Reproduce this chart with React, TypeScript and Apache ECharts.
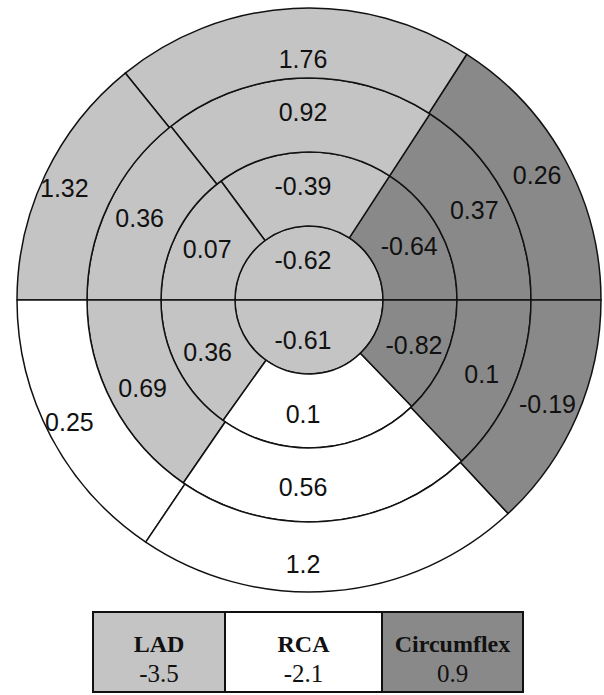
import React, { useEffect, useRef } from "react";
import * as echarts from "echarts";

// Segment values (ring by ring, counter-clockwise from 3 o'clock)
const centerValues = [-0.62, -0.61];
const ring2Values = [-0.64, -0.39, 0.07, 0.36, 0.1, -0.82];
const ring3Values = [0.37, 0.92, 0.36, 0.69, 0.56, 0.1];
const ring4Values = [0.26, 1.76, 1.32, 0.25, 1.2, -0.19];

// Territory of each segment
const centerTerritory = ["LAD", "LAD"];
const ring2Territory = ["Circumflex", "LAD", "LAD", "LAD", "RCA", "Circumflex"];
const ring3Territory = ["Circumflex", "LAD", "LAD", "LAD", "RCA", "Circumflex"];
const ring4Territory = ["Circumflex", "LAD", "LAD", "RCA", "RCA", "Circumflex"];

// Segment boundaries in degrees (counter-clockwise from 3 o'clock)
const centerBounds = [0, 180, 360];
const ring2Bounds = [0, 57, 126.5, 180, 234.5, 314, 360];
const ring3Bounds = [0, 57, 128.5, 180, 235.5, 313.5, 360];
const ring4Bounds = [0, 57.3, 129, 180, 236, 313, 360];

// Legend
const legendNames = ["LAD", "RCA", "Circumflex"];
const legendValues = ["-3.5", "-2.1", "0.9"];

const territoryColors: Record<string, string> = {
  LAD: "#c4c4c4",
  RCA: "#ffffff",
  Circumflex: "#898989",
};

const CX = 309;
const CY = 300;
const RADII = [0, 74, 148, 222, 292];
const TABLE_EDGES = [93, 225, 382, 523];
const TABLE_TOP = 612;
const TABLE_BOTTOM = 692;

export default function App() {
  const ref = useRef<HTMLDivElement>(null);
  useEffect(() => {
    if (!ref.current) return;
    const chart = echarts.init(ref.current, undefined, { renderer: "svg" });

    const rings = [
      { values: centerValues, terr: centerTerritory, bounds: centerBounds },
      { values: ring2Values, terr: ring2Territory, bounds: ring2Bounds },
      { values: ring3Values, terr: ring3Territory, bounds: ring3Bounds },
      { values: ring4Values, terr: ring4Territory, bounds: ring4Bounds },
    ];

    const series = rings.map((ring, ri) => {
      const data = ring.values.map((v, i) => {
        const span = ring.bounds[i + 1] - ring.bounds[i];
        return {
          value: span,
          name: String(v),
          itemStyle: { color: territoryColors[ring.terr[i]] },
        };
      });
      return {
        type: "pie",
        center: [CX, CY],
        radius: [RADII[ri], RADII[ri + 1]],
        startAngle: 0,
        clockwise: false,
        avoidLabelOverlap: false,
        silent: true,
        animation: false,
        itemStyle: { borderColor: "#111", borderWidth: 1.5 },
        label: {
          show: true,
          position: "inside",
          formatter: (p: any) => p.name,
          color: "#111",
          fontSize: 25,
          fontFamily: "Liberation Sans",
        },
        labelLine: { show: false },
        labelLayout: (params: any) => {
          // centre the labels of the top and bottom segments on the vertical axis
          if (ri === 0) return { x: CX - 6 };
          const i = params.dataIndex;
          const mid = (ring.bounds[i] + ring.bounds[i + 1]) / 2;
          const out: any = {};
          if (Math.abs(mid - 90) < 20 || Math.abs(mid - 270) < 20) {
            out.x = CX - 6;
          }
          if (ri === 3) {
            if (Math.abs(mid - 90) < 20) out.dy = 19;
            else if (Math.abs(mid - 270) < 20) out.dy = 5;
            else if (mid > 90 && mid < 270) out.dx = -10;
          }
          return out;
        },
        data,
      };
    });

    const graphics: any[] = [];
    legendNames.forEach((name, i) => {
      const x0 = TABLE_EDGES[i];
      const x1 = TABLE_EDGES[i + 1];
      const cx = (x0 + x1) / 2;
      graphics.push({
        type: "rect",
        shape: { x: x0, y: TABLE_TOP, width: x1 - x0, height: TABLE_BOTTOM - TABLE_TOP },
        style: { fill: territoryColors[name], stroke: "#111", lineWidth: 2 },
        silent: true,
      });
      graphics.push({
        type: "text",
        x: cx,
        y: TABLE_TOP + 32,
        style: {
          text: name,
          fontFamily: "Liberation Serif",
          fontWeight: "bold",
          fontSize: 24,
          fill: "#111",
          align: "center",
          verticalAlign: "middle",
        },
        silent: true,
      });
      graphics.push({
        type: "text",
        x: cx,
        y: TABLE_TOP + 61,
        style: {
          text: legendValues[i],
          fontFamily: "Liberation Serif",
          fontSize: 25,
          fill: "#111",
          align: "center",
          verticalAlign: "middle",
        },
        silent: true,
      });
    });

    chart.setOption({
      animation: false,
      backgroundColor: "#ffffff",
      series,
      graphic: graphics,
    });
    return () => chart.dispose();
  }, []);
  return (
    <div
      ref={ref}
      style={{ position: "absolute", left: 0, top: 0, width: 604, height: 695 }}
    />
  );
}
